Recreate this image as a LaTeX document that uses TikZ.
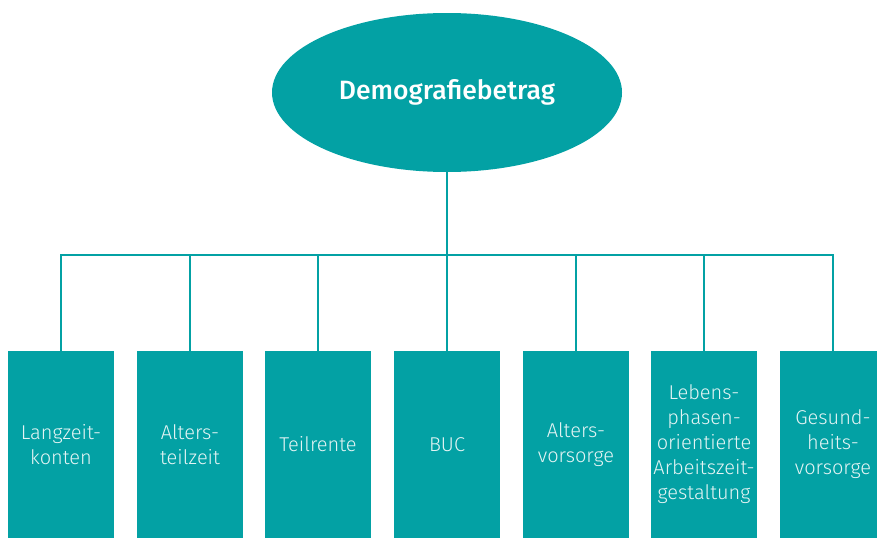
\documentclass[tikz,border=0pt]{standalone}
\usepackage{fontspec}
\setmainfont{Fira Sans}[UprightFont=* Light, BoldFont=* Medium]
\usetikzlibrary{shapes.geometric}
\definecolor{demoteal}{HTML}{03A1A4}
\definecolor{leaftext}{HTML}{E4F4F4}
\tikzset{
  topoval/.style={ellipse, fill=demoteal, minimum width=350pt, minimum height=159pt,
    inner sep=0pt, text=white, font=\fontsize{26.5}{30}\selectfont\bfseries},
  leafbox/.style={rectangle, fill=demoteal, minimum width=106pt, minimum height=187pt,
    inner sep=0pt, text=leaftext, align=center, font=\fontsize{20}{25}\selectfont},
  link/.style={draw=demoteal, line width=1.6pt}
}
\begin{document}
\begin{tikzpicture}[x=1pt,y=-1pt]
    \useasboundingbox (0,0) rectangle (877,538);

    \node[topoval] (demo) at (447,92.5) {\raisebox{-3pt}{Demografiebetrag}};

    \node[leafbox] (lzk) at (61,444.5) {Langzeit-\\konten};
    \node[leafbox] (atz) at (190,444.5) {Alters-\\teilzeit};
    \node[leafbox] (tr) at (318,444.5) {Teilrente};
    \node[leafbox] (buc) at (447,444.5) {BUC};
    \node[leafbox] (av) at (576,444.5) {Alters-\\vorsorge};
    \node[leafbox] (lpa) at (704,444.5) {Lebens-\\phasen-\\orientierte\\Arbeitszeit-\\gestaltung};
    \node[leafbox] (gv) at (833,444.5) {Gesund-\\heits-\\vorsorge};

    \coordinate (bus) at (447,255);
    \draw[link] (demo.south) -- (buc.north);
    \draw[link] (lzk.north) |- (bus) -| (gv.north);
    \draw[link] (atz.north) -- (atz.north |- bus);
    \draw[link] (tr.north) -- (tr.north |- bus);
    \draw[link] (av.north) -- (av.north |- bus);
    \draw[link] (lpa.north) -- (lpa.north |- bus);
\end{tikzpicture}
\end{document}
